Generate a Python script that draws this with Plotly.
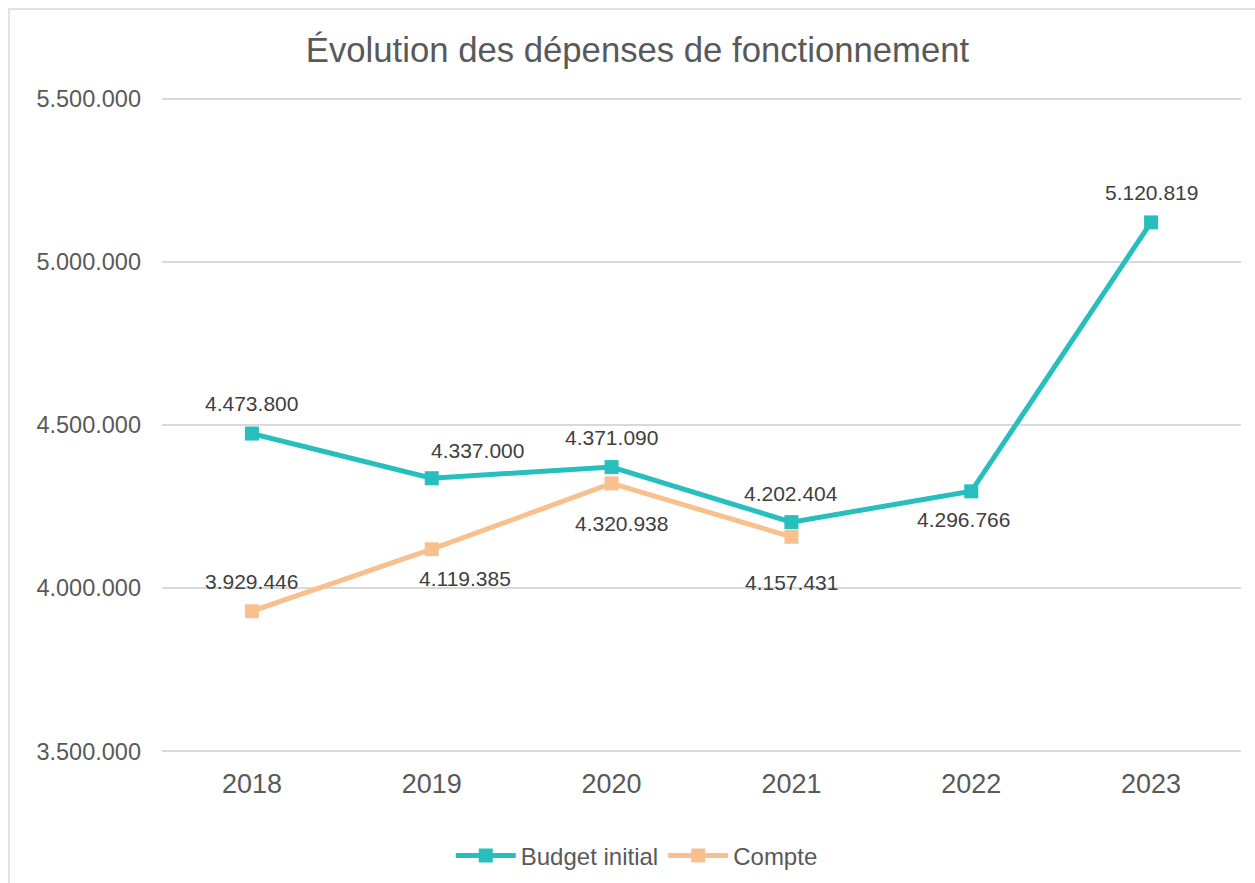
import plotly.graph_objects as go

years = ["2018", "2019", "2020", "2021", "2022", "2023"]
budget = [4473800, 4337000, 4371090, 4202404, 4296766, 5120819]
compte_years = ["2018", "2019", "2020", "2021"]
compte = [3929446, 4119385, 4320938, 4157431]
y_ticks = [3500000, 4000000, 4500000, 5000000, 5500000]

def fmt(v):
    return f"{v:,}".replace(",", ".")

TEAL = "#27BEBE"
PEACH = "#F9C08F"
FONT = "Liberation Sans, Arial, sans-serif"

fig = go.Figure()
fig.add_trace(go.Scatter(
    x=years, y=budget, name="Budget initial", mode="lines+markers",
    line=dict(color=TEAL, width=5), marker=dict(symbol="square", size=14, color=TEAL),
))
fig.add_trace(go.Scatter(
    x=compte_years, y=compte, name="Compte", mode="lines+markers",
    line=dict(color=PEACH, width=5), marker=dict(symbol="square", size=14, color=PEACH),
))

budget_shift = [(0, 30), (46, 28), (0, 30), (0, 29), (-8, -28), (0, 30)]
compte_shift = [(0, 30), (33, -29), (10, -40), (0, -46)]
annotations = []
for xv, yv, (dx, dy) in zip(years, budget, budget_shift):
    annotations.append(dict(x=years.index(xv), y=yv, text=fmt(yv), showarrow=False,
                            xshift=dx, yshift=dy, font=dict(size=21, color="#404040", family=FONT)))
for xv, yv, (dx, dy) in zip(compte_years, compte, compte_shift):
    annotations.append(dict(x=years.index(xv), y=yv, text=fmt(yv), showarrow=False,
                            xshift=dx, yshift=dy, font=dict(size=21, color="#404040", family=FONT)))

M_T, M_B = 97, 130
plot_h = 883 - M_T - M_B

fig.update_layout(
    width=1255, height=883,
    margin=dict(l=162, r=14, t=M_T, b=M_B),
    paper_bgcolor="white", plot_bgcolor="white",
    font=dict(family=FONT, color="#595959"),
    title=dict(text="Évolution des dépenses de fonctionnement", x=0.508, xanchor="center",
               y=0.943, yanchor="middle", font=dict(size=34.7, color="#595959", family=FONT)),
    showlegend=True,
    legend=dict(orientation="h", x=0.44, xanchor="center", yref="container",
                y=1 - 856 / 883, yanchor="middle",
                font=dict(size=24, color="#595959", family=FONT), itemwidth=60,
                bgcolor="rgba(0,0,0,0)"),
    annotations=annotations,
    shapes=[dict(type="rect", xref="paper", yref="paper",
                 x0=(9 - 162) / 1079, x1=1.2, y0=-0.5, y1=(883 - M_B - 9) / plot_h,
                 line=dict(color="#D9D9D9", width=1.5), layer="below")],
)
fig.update_xaxes(type="category", range=[-0.5, 5.5], showgrid=False, showline=False, ticks="",
                 tickfont=dict(size=27, color="#595959", family=FONT), ticklabelstandoff=12)
fig.update_yaxes(range=[3495000, 5505000], tickvals=y_ticks, ticktext=[fmt(v) for v in y_ticks],
                 showgrid=True, gridcolor="#D9D9D9", gridwidth=1.5, zeroline=False,
                 showline=False, ticks="", tickfont=dict(size=23.5, color="#595959", family=FONT),
                 ticklabelstandoff=20)

fig.write_html("out.html", config={"displayModeBar": False},
               post_script="document.body.style.margin='0';")
